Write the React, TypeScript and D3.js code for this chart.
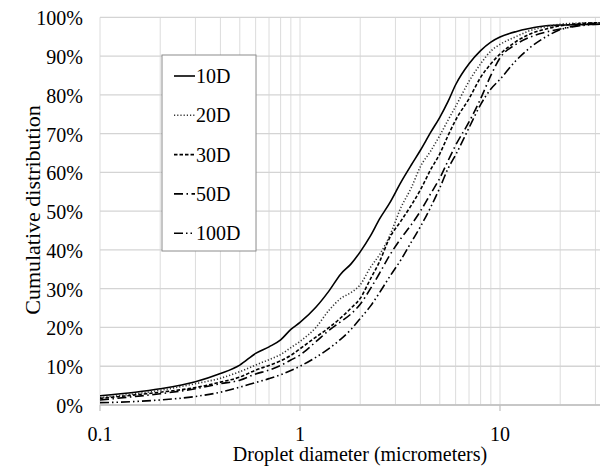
import React, { useEffect, useState } from "react";
import * as d3 from "d3";

const diameters = [0.1, 0.15, 0.2, 0.3, 0.4, 0.5, 0.6, 0.7, 0.8, 0.9, 1, 1.2, 1.4, 1.6, 1.8, 2, 2.25, 2.5, 2.8, 3.2, 3.6, 4, 4.5, 5, 5.5, 6, 7, 8, 9, 10, 12, 14, 17, 20, 25, 31.6, 40];

const d10 = [2.4, 3.3, 4.2, 6.0, 8.1, 10.3, 13.3, 15.0, 16.8, 19.5, 21.3, 25.2, 29.5, 33.8, 36.4, 39.5, 43.6, 48.0, 52.0, 57.5, 61.9, 65.7, 70.3, 74.2, 78.3, 82.6, 88.0, 91.4, 93.6, 94.9, 96.3, 97.1, 97.8, 98.0, 98.1, 98.2, 98.2];
const d20 = [1.9, 2.9, 3.8, 5.5, 6.9, 8.6, 10.3, 11.7, 13.0, 14.8, 16.4, 20.0, 24.5, 27.5, 29.0, 31.0, 35.5, 38.8, 43.5, 51.0, 56.0, 61.5, 65.5, 69.5, 73.5, 77.0, 83.5, 88.0, 91.3, 93.0, 95.0, 96.5, 97.6, 98.2, 98.5, 98.6, 98.6];
const d30 = [1.7, 2.6, 3.3, 4.5, 5.9, 7.2, 9.0, 10.2, 11.4, 12.8, 14.5, 17.5, 20.0, 22.5, 25.0, 27.5, 32.5, 37.0, 43.0, 47.5, 51.5, 55.5, 60.7, 64.8, 69.5, 73.5, 79.0, 84.5, 88.0, 90.5, 93.7, 95.6, 97.0, 97.8, 98.4, 98.6, 98.6];
const d50 = [1.3, 2.2, 2.9, 4.2, 5.5, 6.4, 8.0, 9.0, 10.2, 11.6, 12.9, 16.3, 19.3, 21.5, 23.5, 26.0, 30.0, 34.0, 38.5, 43.0, 46.5, 50.0, 54.5, 58.5, 63.0, 67.0, 73.0, 79.0, 85.0, 89.5, 93.0, 94.8, 96.2, 97.0, 98.0, 98.5, 98.5];
const d100 = [0.6, 0.9, 1.3, 2.2, 3.3, 4.6, 5.8, 6.8, 7.8, 8.9, 10.0, 12.3, 14.6, 17.0, 19.5, 22.3, 25.5, 29.0, 33.0, 37.5, 42.0, 46.0, 51.0, 56.0, 61.0, 64.5, 71.5, 77.5, 81.5, 84.0, 88.8, 92.0, 95.0, 96.8, 97.8, 98.2, 98.2];

const seriesNames = ["10D", "20D", "30D", "50D", "100D"];
const seriesValues = [d10, d20, d30, d50, d100];
const seriesDash = ["none", "1.2,2", "3.5,2", "9,3.5,1.5,3.5", "9,3,1.5,3,1.5,3"];
const seriesColor = ["#000000", "#333333", "#000000", "#000000", "#000000"];

const yTicks = [0, 10, 20, 30, 40, 50, 60, 70, 80, 90, 100];
const xTickLabels = [0.1, 1, 10];

export default function App() {
  const [tick, setTick] = useState(0);
  useEffect(() => {
    const t = setTimeout(() => setTick(1), 50);
    return () => clearTimeout(t);
  }, []);

  const W = 600, H = 468;
  const x = d3.scaleLog().domain([0.1, 100]).range([100, 700]);
  const y = d3.scaleLinear().domain([0, 100]).range([405, 17.3]);

  const minor: number[] = [];
  [0.1, 1, 10].forEach((base) => {
    for (let k = 1; k <= 9; k++) minor.push(base * k);
  });
  minor.push(100);

  const line = d3
    .line<[number, number]>()
    .x((d) => x(d[0]))
    .y((d) => y(d[1]))
    .curve(d3.curveMonotoneX);

  const legendX = 162, legendY = 55, legendW = 94, legendH = 196;
  const rowGap = 39.3;

  return (
    <svg key={tick} width={W} height={H} className="chart" style={{ position: "absolute", left: 0, top: 0, background: "#fff" }}>
      <style>{`.chart text { font-family: "Times New Roman", "Liberation Serif", serif; }`}</style>
      {minor.map((v, i) => (
        <line key={"v" + i} x1={x(v)} x2={x(v)} y1={y(100)} y2={y(0)} stroke="#dcdcdc" strokeWidth={1} />
      ))}
      {yTicks.map((t) => (
        <line key={"h" + t} x1={x(0.1)} x2={W} y1={y(t)} y2={y(t)} stroke="#d4d4d4" strokeWidth={1.3} />
      ))}
      <line x1={x(0.1)} x2={W} y1={y(0)} y2={y(0)} stroke="#bfbfbf" strokeWidth={1.5} />
      {xTickLabels.map((t) => (
        <line key={"xt" + t} x1={x(t)} x2={x(t)} y1={y(0)} y2={y(0) + 6} stroke="#bfbfbf" strokeWidth={1.2} />
      ))}
      {yTicks.map((t) => (
        <text key={"yl" + t} x={83} y={y(t) + 8} textAnchor="end" fontSize={20} fill="#000">
          {t + "%"}
        </text>
      ))}
      {xTickLabels.map((t) => (
        <text key={"xl" + t} x={x(t)} y={441} textAnchor="middle" fontSize={20} fill="#000">
          {String(t)}
        </text>
      ))}
      <text x={360} y={461} textAnchor="middle" fontSize={20} fill="#000">
        Droplet diameter (micrometers)
      </text>
      <text transform={`translate(40,210) rotate(-90)`} textAnchor="middle" fontSize={22} fill="#000">
        Cumulative distribution
      </text>
      {seriesValues.map((vals, i) => (
        <path
          key={"s" + i}
          d={line(diameters.map((dd, j) => [dd, vals[j]] as [number, number])) || ""}
          fill="none"
          stroke={seriesColor[i]}
          strokeWidth={1.6}
          strokeDasharray={seriesDash[i]}
        />
      ))}
      <rect x={legendX} y={legendY} width={legendW} height={legendH} fill="#fff" stroke="#8c8c8c" strokeWidth={1} />
      {seriesNames.map((n, i) => {
        const by = 83 + i * rowGap;
        return (
          <g key={"lg" + i}>
            <line x1={174} x2={195} y1={by - 7} y2={by - 7} stroke={seriesColor[i]} strokeWidth={1.6} strokeDasharray={seriesDash[i]} />
            <text x={196} y={by} fontSize={20} fill="#000">
              {n}
            </text>
          </g>
        );
      })}
    </svg>
  );
}
